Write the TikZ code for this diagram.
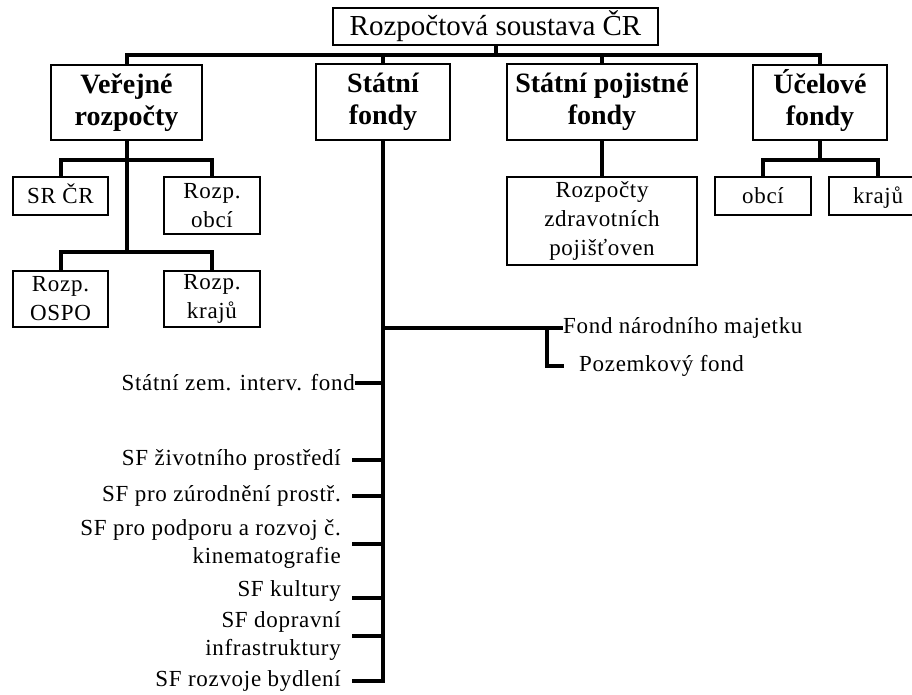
\documentclass[tikz,border=0pt]{standalone}
\usepackage{fontspec}
\setmainfont{Liberation Serif}
\newfontfamily\lblfont[LetterSpace=3]{Liberation Serif}
\begin{document}
\begin{tikzpicture}[x=1pt,y=-1pt,
  conn/.style={line width=4pt},
  box/.style={draw,line width=1.2pt,inner sep=0pt,align=center},
  topbox/.style={box,font=\fontsize{29}{34}\selectfont},
  mainbox/.style={box,font=\bfseries\fontsize{28}{32}\selectfont},
  subbox/.style={box,font=\lblfont\fontsize{23}{29}\selectfont},
  onebox/.style={draw,line width=1.2pt,inner sep=0pt,text height=18pt,text depth=4pt,font=\lblfont\fontsize{23}{29}\selectfont},
  leaf/.style={inner sep=0pt,align=right,anchor=east,font=\lblfont\fontsize{23}{28}\selectfont},
  rleaf/.style={inner sep=0pt,anchor=west,font=\lblfont\fontsize{23}{28}\selectfont}]
\useasboundingbox[fill=white] (0,0) rectangle (912,695);

% top and level 1
\node[topbox,minimum width=325pt,minimum height=37pt] (top) at (495.5,26.5) {Rozpočtová soustava ČR};
\node[mainbox,minimum width=151pt,minimum height=75pt] (ver) at (126.5,102.5) {Veřejné\\rozpočty};
\node[mainbox,minimum width=134pt,minimum height=76pt] (sf) at (383,102) {Státní\\fondy};
\node[mainbox,minimum width=190pt,minimum height=76pt] (spf) at (602,102) {Státní pojistné\\fondy};
\node[mainbox,minimum width=134pt,minimum height=75pt] (uc) at (820,102.5) {\smash{Ú}čelové\\fondy};

% children
\node[onebox,minimum width=95pt,minimum height=38pt] (srcr) at (60.5,196) {SR ČR};
\node[subbox,minimum width=96pt,minimum height=57pt] (robci) at (212,205.5) {Rozp.\\obcí};
\node[subbox,minimum width=95pt,minimum height=56pt] (ospo) at (60.5,299) {Rozp.\\OSPO};
\node[subbox,minimum width=96pt,minimum height=56pt] (rkraju) at (212,299) {Rozp.\\krajů};
\node[subbox,minimum width=190pt,minimum height=88pt] (zdr) at (602,221) {Rozpočty\\zdravotních\\pojišťoven};
\node[onebox,minimum width=96pt,minimum height=38pt] (uobci) at (763,196) {obcí};
\node[onebox,minimum width=98pt,minimum height=38pt] (ukraju) at (878,196) {krajů};

% connector helpers
\coordinate (bus) at (0,55);
\coordinate (vf1) at (0,160);
\coordinate (vf2) at (0,252);
\coordinate (uf) at (0,160);

\draw[conn] (top.south) -- (top.south |- bus);
\draw[conn] (ver.north) -- (ver.north |- bus) -- (uc.north |- bus) -- (uc.north);
\draw[conn] (sf.north) -- (sf.north |- bus);
\draw[conn] (spf.north) -- (spf.north |- bus);

\draw[conn] (ver.south) -- (ver.south |- vf2);
\draw[conn] (srcr.north) -- (srcr.north |- vf1) -- (robci.north |- vf1) -- (robci.north);
\draw[conn] (ospo.north) -- (ospo.north |- vf2) -- (rkraju.north |- vf2) -- (rkraju.north);

\draw[conn] (spf.south) -- (zdr.north);

\draw[conn] (uc.south) -- (uc.south |- uf);
\draw[conn] (uobci.north) -- (uobci.north |- uf) -- (ukraju.north |- uf) -- (ukraju.north);

% Statni fondy leaves
\node[rleaf] (fnm) at (563,328) {Fond národního majetku};
\node[rleaf] (pf) at (579,366) {Pozemkový fond};
\coordinate (pk) at (547,328);

\node[leaf] (l1) at (355,383) {Státní zem. interv. fond};
\node[leaf] (l2) at (341,460) {SF životního prostředí};
\node[leaf] (l3) at (341,496) {SF pro zúrodnění prostř.};
\node[leaf] (l4) at (341,544) {SF pro podporu a rozvoj č.\\kinematografie};
\node[leaf] (l5) at (341,591) {SF kultury};
\node[leaf] (l6) at (341,636) {SF dopravní\\infrastruktury};
\node[leaf] (l7) at (341,681) {SF rozvoje bydlení};

\draw[conn] (sf.south) -- (sf.south |- l7.east) -- ([xshift=11pt]l7.east);
\draw[conn] (sf.south |- fnm.west) -- (fnm.west);
\draw[conn] (pk) |- ([xshift=-15pt]pf.west);
\draw[conn] (l1.east) -- (l1.east -| sf.south);
\draw[conn] ([xshift=11pt]l2.east) -- (l2.east -| sf.south);
\draw[conn] ([xshift=11pt]l3.east) -- (l3.east -| sf.south);
\draw[conn] ([xshift=11pt]l4.east) -- (l4.east -| sf.south);
\draw[conn] ([xshift=11pt,yshift=-7pt]l5.east) -- ([yshift=-7pt]l5.east -| sf.south);
\draw[conn] ([xshift=11pt]l6.east) -- (l6.east -| sf.south);
\end{tikzpicture}
\end{document}
